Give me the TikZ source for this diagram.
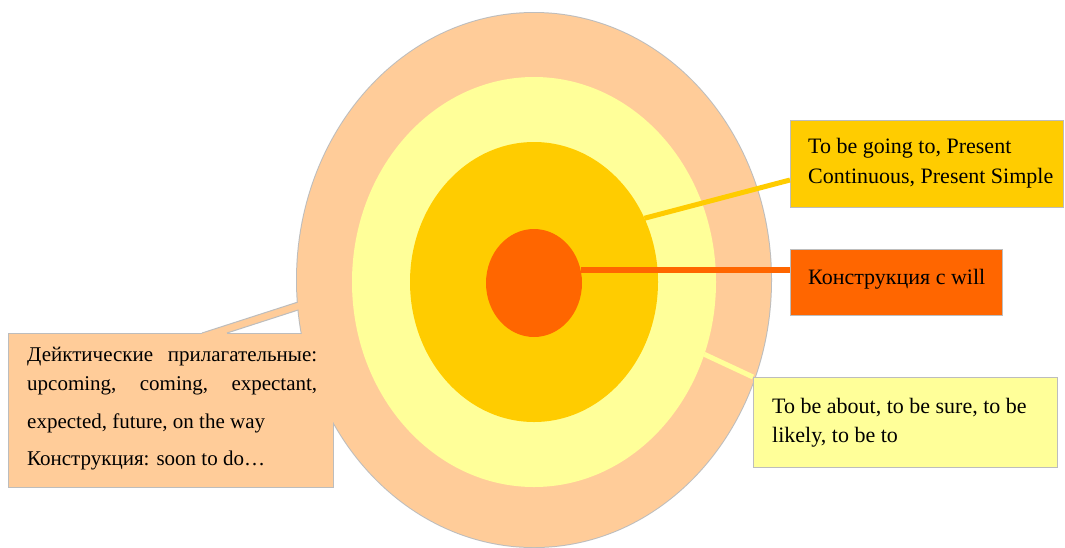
\documentclass[tikz,border=0pt]{standalone}
\usepackage{fontspec}
\setmainfont{Liberation Serif}
\usetikzlibrary{shapes.geometric}
\definecolor{peach}{HTML}{FFCC99}
\definecolor{lyellow}{HTML}{FFFF99}
\definecolor{gold}{HTML}{FFCC00}
\definecolor{orng}{HTML}{FF6600}
\definecolor{edge}{HTML}{BDBDBD}
\begin{document}
\begin{tikzpicture}[x=1pt,y=-1pt,
  ring/.style={ellipse, inner sep=0pt, outer sep=0pt},
  box/.style={rectangle, draw=edge, line width=1pt, inner sep=0pt, outer sep=0pt},
  txt/.style={anchor=base west, inner sep=0pt, font=\fontsize{22}{29}\selectfont},
  ltxt/.style={anchor=base west, inner sep=0pt, font=\fontsize{21}{29}\selectfont},
  link/.style={line width=5pt}
]
\fill[white] (0,0) rectangle (1065,547);
\useasboundingbox (0,0) rectangle (1065,547);

% outline of the outer ring, under everything else
\node[ring, draw=edge, line width=2pt, minimum width=474pt, minimum height=534pt] (outline) at (534,280) {};

% left callout box (behind the rings)
\node[box, fill=peach, minimum width=325pt, minimum height=154pt] (lbox) at (170.5,410) {};
\coordinate (w1) at (202,333);
\coordinate (w2) at (227,333);
\coordinate (t1) at (360,282);
\coordinate (t2) at (360,290);
\fill[peach] (202,334.5) -- (w1) -- (t1) -- (t2) -- (w2) -- (227,334.5) -- cycle;
\draw[edge, line width=1pt] (w1) -- (t1);
\draw[edge, line width=1pt] (w2) -- (t2);

% rings
\node[ring, fill=peach, minimum width=474pt, minimum height=534pt] (outer) at (534,280) {};
\node[ring, fill=lyellow, minimum width=364pt, minimum height=410pt] (mid) at (534,282) {};
\node[ring, fill=gold, minimum width=248pt, minimum height=280pt] (inner) at (534,282) {};
\node[ring, fill=orng, minimum width=96pt, minimum height=108pt] (core) at (534,283) {};

% boxes on the right
\node[box, fill=gold, minimum width=273pt, minimum height=87pt] (gbox) at (926.5,163.5) {};
\node[box, fill=orng, minimum width=212pt, minimum height=66pt] (obox) at (896,282) {};
\node[box, fill=lyellow, minimum width=304pt, minimum height=90pt] (ybox) at (905,422) {};

% connectors
\draw[link, draw=gold] (inner.30) -- ([yshift=-16.5pt]gbox.west);
\draw[link, draw=orng, line width=6pt] (core.15) -- (core.15 -| obox.west);
\draw[link, draw=lyellow] (mid.-23) -- (ybox.north west);

% texts
\node[txt] (g1) at (808,153) {To be going to, Present};
\node[txt] (g2) at (808,183) {Continuous, Present Simple};
\node[txt] (o1) at (808,284) {Конструкция с will};
\node[txt] (y1) at (772,413) {To be about, to be sure, to be};
\node[txt] (y2) at (772,442) {likely, to be to};
\node[ltxt] (l1) at (27,361) {\hbox to 290pt{Дейктические\hfill прилагательные:}};
\node[ltxt] (l2) at (27,390) {\hbox to 290pt{upcoming,\hfill coming,\hfill expectant,}};
\node[ltxt] (l3) at (27,428) {expected, future, on the way};
\node[ltxt] (l4) at (27,465) {Конструкция: soon to do…};
\end{tikzpicture}
\end{document}
